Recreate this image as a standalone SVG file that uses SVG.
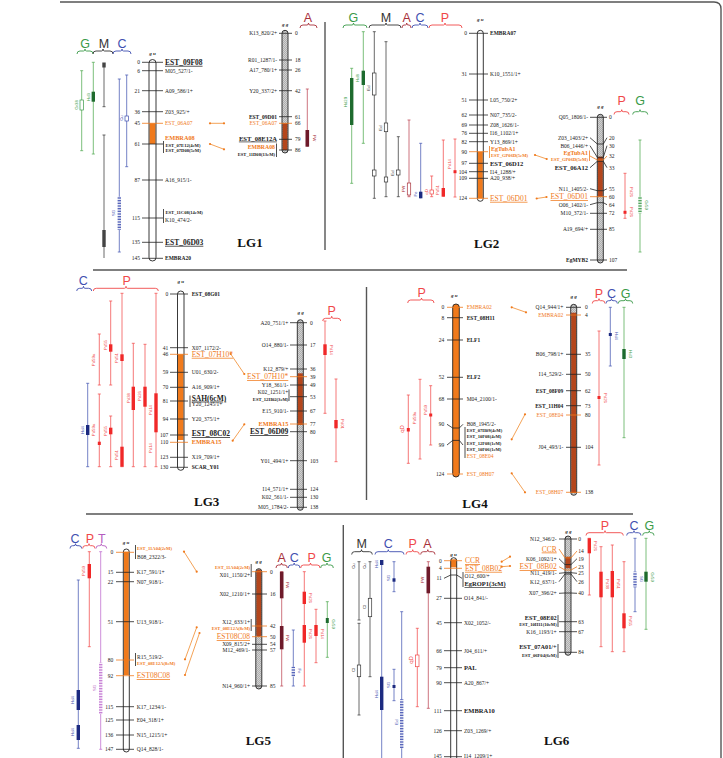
<svg xmlns="http://www.w3.org/2000/svg" width="723" height="758" viewBox="0 0 723 758">
<defs>
<pattern id="hatch" width="2" height="2" patternUnits="userSpaceOnUse"><rect width="2" height="2" fill="#d2d2d2"/><path d="M0 2L2 0" stroke="#8c8c8c" stroke-width="0.5"/></pattern>
<pattern id="hB" width="4" height="1.6" patternUnits="userSpaceOnUse"><rect width="4" height="1.6" fill="#fff"/><rect width="4" height="0.8" fill="#3f4fb0"/></pattern>
<pattern id="hG" width="4" height="1.6" patternUnits="userSpaceOnUse"><rect width="4" height="1.6" fill="#fff"/><rect width="4" height="0.8" fill="#3a9a48"/></pattern>
<pattern id="hT" width="4" height="1.6" patternUnits="userSpaceOnUse"><rect width="4" height="1.6" fill="#fff"/><rect width="4" height="0.8" fill="#c070d0"/></pattern>
</defs>
<style>
text{font-family:"Liberation Serif","Times New Roman",serif;fill:#222}
.m{font-size:5.5px}
.r{text-anchor:end}
.b{font-weight:bold}
.o{fill:#f07a1c}
.u{text-decoration:underline}
.big{font-size:7.5px;font-weight:bold}
.sm{font-size:4.6px;font-weight:bold}
.gu{font-size:5px;font-style:italic;font-weight:bold;text-anchor:middle}
.h{font-family:"Liberation Sans",Arial,sans-serif;font-size:12.5px;text-anchor:middle}
.lg{font-size:13px;font-weight:bold;text-anchor:middle;fill:#111}
.q{font-family:"Liberation Sans",Arial,sans-serif;font-size:4.3px;text-anchor:middle}
.tick{stroke:#222;stroke-width:0.8;fill:none}
.tko{stroke:#f07a1c;stroke-width:0.8;fill:none}
.ol{fill:none;stroke:#222;stroke-width:0.9}
.wht{fill:#fff}
.gry{fill:url(#hatch)}
.org{fill:#f07a1c}
.brn{fill:#b4461c}
.sep{stroke:#555;stroke-width:1.4;fill:none}
.con{stroke:#f08a2c;stroke-width:0.8;fill:none}
.dot{fill:#f07a1c}
.br{fill:none;stroke-width:0.9}
.cG{fill:#3a9a48}.cM{fill:#333}.cC{fill:#3f4fb0}.cA{fill:#a8303a}.cP{fill:#f04848}.cT{fill:#b45cc0}
.sG{stroke:#3a9a48}.sM{stroke:#333}.sC{stroke:#3f4fb0}.sA{stroke:#a8303a}.sP{stroke:#f04848}.sT{stroke:#b45cc0}
.lG{stroke:#5aae5a;stroke-width:0.8;fill:none}
.lM{stroke:#444;stroke-width:0.8;fill:none}
.lC{stroke:#5062b8;stroke-width:0.8;fill:none}
.lA{stroke:#c0505e;stroke-width:0.8;fill:none}
.lP{stroke:#f25656;stroke-width:0.8;fill:none}
.lT{stroke:#c070d0;stroke-width:0.8;fill:none}
.fG{fill:#1e6b2e}.fM{fill:#444}.fC{fill:#1c2a80}.fA{fill:#6e1a2a}.fP{fill:#f02828}
.xG{fill:#fff;stroke:#3a9a48;stroke-width:0.7}.xM{fill:#fff;stroke:#333;stroke-width:0.7}.xC{fill:#fff;stroke:#3f4fb0;stroke-width:0.7}.xA{fill:#fff;stroke:#a8303a;stroke-width:0.7}.xP{fill:#fff;stroke:#f04848;stroke-width:0.7}
</style>
<rect width="723" height="758" fill="#fff"/>
<g id="frame">
<path class="sep" d="M60 2H714Q721 2 721 9V758" stroke="#777"/>
<path class="sep" d="M325 22V250M93 270H627M366.5 287V500M86 514H633M343.3 525V758"/>
</g>

<!-- ================= LG1 ================= -->
<g id="LG1-headers">
<text class="h cG" x="85" y="48">G</text><text class="h cM" x="104" y="48">M</text><text class="h cC" x="122" y="48">C</text>
<path class="br sG" d="M77 54Q77 51 80 51H83.5Q85 51 85 49Q85 51 86.5 51H90Q93 51 93 54"/>
<path class="br sM" d="M93 54Q93 51 96 51H101.5Q103 51 103 49Q103 51 104.5 51H110Q113 51 113 54"/>
<path class="br sC" d="M113 54Q113 51 116 51H120.5Q122 51 122 49Q122 51 123.5 51H128Q131 51 131 54"/>
<text class="h cA" x="308" y="22">A</text>
<path class="br sA" d="M300 28Q300 25 303 25H307Q308.5 25 308.5 23Q308.5 25 310 25H314Q317 25 317 28"/>
<text class="lg" x="250" y="247">LG1</text>
</g>
<g id="LG1-qtl">
<path class="lG" d="M81.7 70.7V150.7M80.2 70.7H83.2M80.2 150.7H83.2"/><rect class="xG" x="80" y="100" width="3.4" height="10"/>
<text class="q cG" transform="rotate(-90 77.5 105)" x="77.5" y="105">Gr38</text>
<path class="lG" d="M93.3 62.3V154M91.8 62.3H94.8M91.8 154H94.8"/><rect class="fG" x="91.6" y="91.7" width="3.4" height="10"/>
<text class="q cG" transform="rotate(-90 89.5 97)" x="89.5" y="97">Hd3</text>
<path class="lM" d="M104 65V106.7M102.5 106.7H105.5"/><rect class="fM" x="102.3" y="62.5" width="3.4" height="5"/>
<path class="lM" d="M104 135V258M102.5 135H105.5"/><rect class="fM" x="102.3" y="230" width="3.4" height="17"/>
<path class="lC" d="M126.7 75V166.7M125.2 75H128.2M125.2 166.7H128.2"/><rect class="xC" x="125" y="116" width="3.4" height="5"/>
<text class="q cC" transform="rotate(-90 122.5 118)" x="122.5" y="118">Cu</text>
<path class="lC" d="M119.3 79V252M117.8 79H120.8M117.8 252H120.8"/><rect fill="url(#hB)" x="117.6" y="196.7" width="3.4" height="33.3"/>
<text class="q cC" transform="rotate(-90 114.5 213)" x="114.5" y="213">SG</text>
<path class="lA" d="M307.3 89V146.7M305.8 89H308.8"/><rect class="fA" x="305.5" y="130" width="3.6" height="16.7"/>
<text class="q cA" transform="rotate(90 312.5 138)" x="312.5" y="138">FW</text>
</g>
<g id="LG1-left">
<rect class="wht" x="149" y="59.5" width="7" height="201.5" rx="3.5"/>
<rect class="org" x="149.5" y="123.3" width="6" height="20.7"/>
<rect class="ol" x="149" y="59.5" width="7" height="201.5" rx="3.5"/>
<path class="tick" d="M142 62.3H163M142 70.7H163M142 90.7H163M142 111.7H163M142 144H163M142 180H163M142 218H163M142 242.3H163M142 258.3H163M163.5 141V153M163.5 209V223"/>
<path class="tko" d="M142 123.3H163"/>
<text class="gu" x="152.5" y="55">g u</text>
<text class="m r" x="140" y="64.1">0</text><text class="m r" x="140" y="72.5">6</text><text class="m r" x="140" y="92.5">21</text><text class="m r" x="140" y="113.5">36</text><text class="m r" x="140" y="125.1">45</text><text class="m r" x="140" y="145.8">61</text><text class="m r" x="140" y="181.8">87</text><text class="m r" x="140" y="219.8">115</text><text class="m r" x="140" y="244.1">135</text><text class="m r" x="140" y="260.1">145</text>
<text class="big u" x="165" y="64.8">EST_09F08</text>
<text class="m" x="165" y="72.5">M05_527/1-</text>
<text class="m" x="165" y="92.5">A09_586/1+</text>
<text class="m" x="165" y="113.5">Z03_925/+</text>
<text class="m o" x="165" y="125.1">EST_06A07</text>
<text class="m o b" x="165" y="140.3" style="font-size:6.3px">EMBRA08</text>
<text class="sm" x="165.5" y="147.3">EST_07E12(4cM)</text>
<text class="sm" x="165.5" y="152.3">EST_07D08(5cM)</text>
<text class="m" x="165" y="181.8">A16_915/1-</text>
<text class="sm" x="165.5" y="213.5">EST_11C08(14cM)</text>
<text class="m" x="165" y="221.8">K10_474/2-</text>
<text class="big u" x="165" y="244.8">EST_06D03</text>
<text class="m b" x="165" y="260.3">EMBRA20</text>
</g>
<g id="LG1-right">
<rect class="gry" x="282" y="30.3" width="6" height="122.7" rx="3"/>
<rect class="brn" x="282.5" y="123.3" width="5" height="26.7"/>
<rect class="ol" x="282" y="30.3" width="6" height="122.7" rx="3"/>
<path class="tick" d="M279 33.3H292M279 60H292M279 70H292M279 90.7H292M279 116.7H292M279 139.3H292M279 150H292M276.5 143.5V157"/>
<path class="tko" d="M279 123.3H292"/>
<text class="gu" x="285" y="26">g g</text>
<text class="m" x="295" y="35.1">0</text><text class="m" x="295" y="61.8">18</text><text class="m" x="295" y="71.8">26</text><text class="m" x="295" y="92.5">42</text><text class="m" x="295" y="118.5">61</text><text class="m" x="295" y="125.1">66</text><text class="m" x="295" y="141.1">79</text><text class="m" x="295" y="151.8">86</text>
<text class="m r" x="277" y="35.1">K13_820/2+</text>
<text class="m r" x="277" y="61.8">R01_1287/1-</text>
<text class="m r" x="277" y="71.8">A17_780/1+</text>
<text class="m r" x="277" y="92.5">Y20_337/2+</text>
<text class="m r b" x="277" y="118.5">EST_09D01</text>
<text class="m r o" x="277" y="125.1">EST_06A07</text>
<text class="r u b" x="277" y="140.6" style="font-size:6.6px">EST_08E12A</text>
<text class="m r o b" x="275" y="148.8" style="font-size:5.8px">EMBRA08</text>
<text class="sm r" x="275" y="155.9">EST_11D08(13cM)</text>
</g>

<!-- ================= LG2 ================= -->
<g id="LG2-headers">
<text class="h cG" x="353.3" y="22">G</text><text class="h cM" x="386" y="22">M</text><text class="h cA" x="406.7" y="22">A</text><text class="h cC" x="420" y="22">C</text><text class="h cP" x="445" y="22">P</text>
<path class="br sG" d="M343 28Q343 25 346 25H352Q353.5 25 353.5 23Q353.5 25 355 25H364Q367 25 367 28"/>
<path class="br sM" d="M369 28Q369 25 372 25H384.5Q386 25 386 23Q386 25 387.5 25H398Q401 25 401 28"/>
<path class="br sA" d="M402 28Q402 25 404 25H405.5Q406.7 25 406.7 23Q406.7 25 408 25H409Q411 25 411 28"/>
<path class="br sC" d="M412 28Q412 25 415 25H418.5Q420 25 420 23Q420 25 421.5 25H425Q428 25 428 28"/>
<path class="br sP" d="M429 28Q429 25 432 25H443.5Q445 25 445 23Q445 25 446.5 25H459Q462 25 462 28"/>
<text class="h cP" x="621.7" y="105">P</text><text class="h cG" x="640" y="105">G</text>
<path class="br sP" d="M614 114.5Q614 111.7 617 111.7H620.2Q621.7 111.7 621.7 109.7Q621.7 111.7 623.2 111.7H626Q629 111.7 629 114.5"/>
<path class="br sG" d="M632.7 114.5Q632.7 111.7 635.7 111.7H638.5Q640 111.7 640 109.7Q640 111.7 641.5 111.7H644.7Q647.7 111.7 647.7 114.5"/>
<text class="lg" x="486.7" y="248">LG2</text>
</g>
<g id="LG2-qtl">
<path class="lG" d="M351.7 68.3V183.3M350.2 68.3H353.2M350.2 183.3H353.2"/><rect class="fG" x="350" y="78" width="3.4" height="47"/>
<text class="q cG" transform="rotate(-90 347 102)" x="347" y="102">Hd29</text>
<path class="lG" d="M363.3 31.7V143.3M361.8 31.7H364.8M361.8 143.3H364.8"/><rect class="fG" x="361.6" y="70.7" width="3.4" height="14.3"/>
<text class="q cG" transform="rotate(-90 359 78)" x="359" y="78">Hd8</text>
<path class="lM" d="M374.3 31.7V198.3M372.8 31.7H375.8M372.8 198.3H375.8"/><rect class="xM" x="372.6" y="73" width="3.4" height="22"/><rect class="xM" x="372.6" y="170" width="3.4" height="6"/>
<text class="q cM" transform="rotate(-90 370 88)" x="370" y="88">Ed</text>
<path class="lM" d="M386 41.7V196.7M384.5 41.7H387.5M384.5 196.7H387.5"/><rect class="xM" x="384.3" y="123" width="3.4" height="8.7"/><rect class="xM" x="384.3" y="177" width="3.4" height="5"/>
<text class="q cM" transform="rotate(-90 381.7 128)" x="381.7" y="128">Ed</text>
<path class="lM" d="M398.3 136.7V196.7M396.8 136.7H399.8M396.8 196.7H399.8"/><rect class="xM" x="396.6" y="170" width="3.4" height="5"/>
<text class="q cM" transform="rotate(-90 394 173)" x="394" y="173">Ed</text>
<path class="lA" d="M409 120V196.7M407.5 120H410.5M407.5 196.7H410.5"/><rect class="xA" x="407.3" y="183" width="3.4" height="12"/>
<text class="q cA" transform="rotate(-90 405 189)" x="405" y="189">FW</text>
<path class="lC" d="M420.7 143.3V198.3M419.2 143.3H422.2"/><rect class="fC" x="419" y="191.7" width="3.4" height="6.6"/>
<text class="q cC" transform="rotate(-90 416.5 194)" x="416.5" y="194">Fe</text>
<path class="lP" d="M431.7 176V196.7M430.2 176H433.2M430.2 196.7H433.2"/><rect class="xP" x="430" y="190" width="3.4" height="4"/>
<text class="q cP" transform="rotate(-90 427.5 192)" x="427.5" y="192">qD</text>
<path class="lP" d="M443.3 140V196.7M441.8 140H444.8"/><rect class="fP" x="441.6" y="188" width="3.4" height="8.7"/>
<text class="q cP" transform="rotate(-90 439 190)" x="439" y="190">Pd51</text>
<path class="lP" d="M455 139V197M453.5 139H456.5M453.5 197H456.5"/><rect class="fP" x="453.5" y="170.2" width="3" height="3"/>
<text class="q cP" transform="rotate(-90 451 164)" x="451" y="164">Pd14</text>
<path class="lP" d="M625 173.3V218.3M623.5 173.3H626.5M623.5 218.3H626.5"/><rect class="fP" x="623.5" y="210.8" width="3" height="3"/>
<text class="q cP" transform="rotate(90 629.5 192)" x="629.5" y="192">Pd26</text>
<text class="q cP" transform="rotate(90 629.5 212)" x="629.5" y="212">Pd26</text>
<path class="lG" d="M640 140V252M638.5 140H641.5M638.5 252H641.5"/><rect fill="url(#hG)" x="638.3" y="196.7" width="3.4" height="16.6"/>
<text class="q cG" transform="rotate(90 645 205)" x="645" y="205">Gr59</text>
</g>
<g id="LG2-left">
<rect class="wht" x="477.3" y="30.3" width="6" height="171" rx="3"/>
<rect class="org" x="477.8" y="151.7" width="5" height="46.6"/>
<rect class="ol" x="477.3" y="30.3" width="6" height="171" rx="3"/>
<path class="tick" d="M469 33.3H488M469 74H488M469 100H488M469 115H488M469 125H488M469 133.3H488M469 141.7H488M469 163.3H488M469 171.7H488M469 178.3H488"/>
<path class="tko" d="M469 151.7H488M469 198.3H488M489.5 146V158"/>
<text class="gu" x="480.3" y="21">g u</text>
<text class="m r" x="467" y="35.1">0</text><text class="m r" x="467" y="75.8">31</text><text class="m r" x="467" y="101.8">51</text><text class="m r" x="467" y="116.8">62</text><text class="m r" x="467" y="126.8">69</text><text class="m r" x="467" y="135.1">76</text><text class="m r" x="467" y="143.5">82</text><text class="m r" x="467" y="153.5">90</text><text class="m r" x="467" y="165.1">97</text><text class="m r" x="467" y="173.5">104</text><text class="m r" x="467" y="180.1">109</text><text class="m r" x="467" y="200.1">124</text>
<text class="m b" x="490" y="35.1">EMBRA07</text>
<text class="m" x="490" y="75.8">K10_1551/1+</text>
<text class="m" x="490" y="101.8">L05_750/2+</text>
<text class="m" x="490" y="116.8">N07_735/2-</text>
<text class="m" x="490" y="126.8">Z08_1626/1-</text>
<text class="m" x="490" y="135.1">I16_1102/1+</text>
<text class="m" x="490" y="143.5">Y13_869/1+</text>
<text class="m o b" x="491" y="151" style="font-size:6px">EgTubA1</text>
<text class="sm o" x="491" y="157">EST_GP06D(5cM)</text>
<text class="m b" x="490" y="165.5" style="font-size:6.5px">EST_06D12</text>
<text class="m" x="490" y="173.5">I14_1288/+</text>
<text class="m" x="490" y="180.1">A20_938/+</text>
<text class="big o u" x="490" y="200.8" style="font-weight:normal">EST_06D01</text>
</g>
<g id="LG2-right">
<rect class="gry" x="597.3" y="114.3" width="6" height="148.7" rx="3"/>
<rect class="brn" x="597.8" y="156.7" width="5" height="40"/>
<rect class="ol" x="597.3" y="114.3" width="6" height="148.7" rx="3"/>
<path class="tick" d="M590 117.3H607M590 137.7L597.3 144H603.3L607 137.7M590 145.7L597.3 157.3H603.3L607 145.7M590 167.7L597.3 161.3H603.3L607 167.7M590 188.7L597.3 190.7H603.3L607 188.7M590 204.7L597.3 202.7H603.3L607 204.7M590 213.3H607M590 229.3H607M590 260H607"/>
<path class="tko" d="M590 156L597.3 160H603.3L607 156M590 196.7H607M589.5 150.5V161"/>
<text class="gu" x="600.3" y="108">g g</text>
<text class="m" x="609" y="119.1">0</text><text class="m" x="609" y="139.5">20</text><text class="m" x="609" y="147.5">30</text><text class="m" x="609" y="157.8">32</text><text class="m" x="609" y="169.5">33</text><text class="m" x="609" y="190.5">55</text><text class="m" x="609" y="198.5">60</text><text class="m" x="609" y="206.5">64</text><text class="m" x="609" y="215.1">72</text><text class="m" x="609" y="231.1">85</text><text class="m" x="609" y="261.8">107</text>
<text class="m r" x="588" y="119.1">Q05_1806/1-</text>
<text class="m r" x="588" y="139.5">Z03_1403/2+</text>
<text class="m r" x="588" y="147.5">B06_1446/+</text>
<text class="m r o b" x="588" y="155.2" style="font-size:6px">EgTubA1</text>
<text class="sm r o" x="588" y="161">EST_GP06D(5cM)</text>
<text class="m r b" x="588" y="169.7" style="font-size:6.5px">EST_06A12</text>
<text class="m r" x="588" y="190.5">N11_1405/2-</text>
<text class="big r o u" x="588" y="199.2" style="font-weight:normal">EST_06D01</text>
<text class="m r" x="588" y="206.5">O06_1402/1-</text>
<text class="m r" x="588" y="215.1">M10_372/1-</text>
<text class="m r" x="588" y="231.1">A19_694/+</text>
<text class="m r b" x="588" y="262">EgMYB2</text>
</g>

<!-- ================= LG3 ================= -->
<g id="LG3-headers">
<text class="h cC" x="83.3" y="285">C</text><text class="h cP" x="126.7" y="285">P</text>
<path class="br sC" d="M76.7 291Q76.7 288.3 79.7 288.3H82Q83.5 288.3 83.5 286.3Q83.5 288.3 85 288.3H88.7Q91.7 288.3 91.7 291"/>
<path class="br sP" d="M93.3 291Q93.3 288.3 96.3 288.3H124.5Q126 288.3 126 286.3Q126 288.3 127.5 288.3H155.3Q158.3 288.3 158.3 291"/>
<text class="h cP" x="331.7" y="315">P</text>
<path class="br sP" d="M322.7 321Q322.7 318.3 325.7 318.3H330.2Q331.7 318.3 331.7 316.3Q331.7 318.3 333.2 318.3H337.7Q340.7 318.3 340.7 321"/>
<text class="lg" x="206.7" y="506">LG3</text>
</g>
<g id="LG3-qtl">
<path class="lC" d="M87.7 383.3V466.7M86.2 383.3H89.2M86.2 466.7H89.2"/><rect class="fC" x="86" y="425" width="3.4" height="10"/>
<text class="q cC" transform="rotate(-90 83.5 430)" x="83.5" y="430">Hd4</text>
<path class="lP" d="M99.3 334V385M97.8 334H100.8M97.8 385H100.8M99.3 394V466.7M97.8 394H100.8M97.8 466.7H100.8"/><rect class="fP" x="97.8" y="441.7" width="3" height="3.3"/>
<text class="q cP" transform="rotate(-90 95.3 360)" x="95.3" y="360">Pd59a</text><text class="q cP" transform="rotate(-90 95.3 430)" x="95.3" y="430">Pd59a</text>
<path class="lP" d="M110.7 301V385M109.2 301H112.2M109.2 385H112.2M110.7 416V466.7M109.2 416H112.2M109.2 466.7H112.2"/><rect class="fP" x="109" y="344.3" width="3.4" height="7.4"/><rect class="fP" x="109" y="427.7" width="3.4" height="6.6"/>
<text class="q cP" transform="rotate(-90 106.5 345)" x="106.5" y="345">Pd55</text><text class="q cP" transform="rotate(-90 106.5 431)" x="106.5" y="431">Pd55</text>
<path class="lP" d="M122 293.3V466.7M120.5 293.3H123.5M120.5 466.7H123.5"/><rect class="fP" x="120.3" y="354.3" width="3.4" height="6.7"/><rect class="fP" x="120.3" y="446.7" width="3.4" height="20"/>
<text class="q cP" transform="rotate(-90 118 358)" x="118" y="358">Pd51</text><text class="q cP" transform="rotate(-90 118 455)" x="118" y="455">Pd51</text>
<path class="lP" d="M133.3 343.3V466.7M131.8 343.3H134.8M131.8 466.7H134.8"/><rect class="fP" x="131.6" y="386.7" width="3.4" height="23.3"/>
<text class="q cP" transform="rotate(-90 129.5 398)" x="129.5" y="398">Pd38</text>
<path class="lP" d="M145 344.3V466.7M143.5 344.3H146.5M143.5 466.7H146.5"/><rect class="fP" x="143.3" y="386.7" width="3.4" height="20"/>
<text class="q cP" transform="rotate(-90 141 396)" x="141" y="396">Pd26</text>
<path class="lP" d="M156 293.3V466.7M154.5 293.3H157.5M154.5 466.7H157.5"/><rect class="fP" x="154.3" y="393.3" width="3.4" height="39"/>
<text class="q cP" transform="rotate(-90 152 410)" x="152" y="410">Pd14</text><text class="q cP" transform="rotate(-90 152 448)" x="152" y="448">Pd14</text>
<path class="lP" d="M325 321V413.3M323.5 321H326.5M323.5 413.3H326.5"/><rect class="fP" x="323.3" y="344.3" width="3.4" height="10.7"/>
<text class="q cP" transform="rotate(90 330 350)" x="330" y="350">Pd14</text>
<path class="lP" d="M336 379V461.7M334.5 379H337.5M334.5 461.7H337.5"/><rect class="fP" x="334.3" y="420" width="3.4" height="8.3"/>
<text class="q cP" transform="rotate(90 341 424)" x="341" y="424">Pd01</text>
</g>
<g id="LG3-left">
<rect class="wht" x="177.5" y="291" width="6.5" height="179.3" rx="3.2"/>
<rect class="org" x="178" y="354.3" width="5.5" height="85.7"/>
<rect class="ol" x="177.5" y="291" width="6.5" height="179.3" rx="3.2"/>
<path class="tick" d="M170 294H188M170 347.7H188M170 372.3H188M170 387.3H188M170 401H188M170 419H188M170 435H188M170 457.3H188M170 467.3H188M190 395.5V407"/>
<path class="tko" d="M170 354.3H188M170 442.3H188"/>
<text class="gu" x="180.7" y="283">g u</text>
<text class="m r" x="168.3" y="295.8">0</text><text class="m r" x="168.3" y="349.5">41</text><text class="m r" x="168.3" y="356.1">46</text><text class="m r" x="168.3" y="374.1">59</text><text class="m r" x="168.3" y="389.1">70</text><text class="m r" x="168.3" y="402.8">81</text><text class="m r" x="168.3" y="420.8">94</text><text class="m r" x="168.3" y="436.8">107</text><text class="m r" x="168.3" y="444.1">110</text><text class="m r" x="168.3" y="459.1">123</text><text class="m r" x="168.3" y="469.1">130</text>
<text class="m b" x="191.7" y="295.8">EST_08G01</text>
<text class="m" x="191.7" y="349.5">X07_1172/2-</text>
<text class="big o u" x="191.7" y="356.8" style="font-weight:normal">EST_07H10*</text>
<text class="m" x="191.7" y="374.1">U01_630/2-</text>
<text class="m" x="191.7" y="389.1">A16_909/1+</text>
<text class="big u" x="191.7" y="400.6">SAH(6cM)</text>
<text class="m" x="191.7" y="406.3">Y20_1245/1+</text>
<text class="m" x="191.7" y="420.8">Y20_375/1+</text>
<text class="big u" x="191.7" y="436">EST_08C02</text>
<text class="m o b" x="191.7" y="444.3" style="font-size:6.3px">EMBRA15</text>
<text class="m" x="191.7" y="459.1">X19_709/1+</text>
<text class="m b" x="191.7" y="469.1">SCAR_Y01</text>
</g>
<g id="LG3-right">
<rect class="gry" x="297.3" y="319.7" width="6" height="190.6" rx="3"/>
<rect class="brn" x="297.8" y="373.3" width="5" height="51.7"/>
<rect class="ol" x="297.3" y="319.7" width="6" height="190.6" rx="3"/>
<path class="tick" d="M290 322.7H307M290 345H307M290 369H307M290 385H307M290 396.7H307M290 411H307M290 431.7H307M290 460.7H307M290 489.3H307M290 497.3H307M290 507.3H307M289 389.5V401"/>
<path class="tko" d="M290 376.7H307M290 424H307"/>
<text class="gu" x="300.7" y="314">g g</text>
<text class="m" x="310" y="324.5">0</text><text class="m" x="310" y="346.8">17</text><text class="m" x="310" y="370.8">36</text><text class="m" x="310" y="378.5">39</text><text class="m" x="310" y="386.8">49</text><text class="m" x="310" y="398.5">53</text><text class="m" x="310" y="412.8">67</text><text class="m" x="310" y="425.8">77</text><text class="m" x="310" y="433.5">80</text><text class="m" x="310" y="462.5">103</text><text class="m" x="310" y="491.1">124</text><text class="m" x="310" y="499.1">130</text><text class="m" x="310" y="509.1">138</text>
<text class="m r" x="288.3" y="324.5">A20_751/1+</text>
<text class="m r" x="288.3" y="346.8">O14_880/1-</text>
<text class="m r" x="288.3" y="370.8">K12_879/+</text>
<text class="big r o u" x="288.3" y="379.2" style="font-weight:normal">EST_07H10*</text>
<text class="m r" x="288.3" y="386.8">Y18_361/1-</text>
<text class="m r" x="288.3" y="393.5">K02_1251/1+</text>
<text class="sm r" x="288.3" y="400.5">EST_12H02(3cM)</text>
<text class="m r" x="288.3" y="412.8">E15_910/1-</text>
<text class="m r o b" x="288.3" y="426.2" style="font-size:6.3px">EMBRA15</text>
<text class="big r u" x="288.3" y="434.2">EST_06D09</text>
<text class="m r" x="288.3" y="462.5">Y01_494/1+</text>
<text class="m r" x="288.3" y="491.1">I14_571/1+</text>
<text class="m r" x="288.3" y="499.1">K02_561/1-</text>
<text class="m r" x="288.3" y="509.1">M05_1784/2-</text>
</g>

<!-- ================= LG4 ================= -->
<g id="LG4-headers">
<text class="h cP" x="421.7" y="296.7">P</text>
<path class="br sP" d="M407.7 303Q407.7 300 410.7 300H420Q421.5 300 421.5 298Q421.5 300 423 300H431Q434 300 434 303"/>
<text class="h cP" x="599" y="298">P</text><text class="h cC" x="611.5" y="298">C</text><text class="h cG" x="625.7" y="298">G</text>
<path class="br sP" d="M592.3 303.5Q592.3 300.7 595 300.7H597.5Q599 300.7 599 298.7Q599 300.7 600.5 300.7H602.3Q605 300.7 605 303.5"/>
<path class="br sC" d="M606 303.5Q606 300.7 608.5 300.7H610Q611.5 300.7 611.5 298.7Q611.5 300.7 613 300.7H614.8Q617.3 300.7 617.3 303.5"/>
<path class="br sG" d="M618.3 303.5Q618.3 300.7 621 300.7H624Q625.5 300.7 625.5 298.7Q625.5 300.7 627 300.7H630Q632.7 300.7 632.7 303.5"/>
<text class="lg" x="475" y="508">LG4</text>
</g>
<g id="LG4-qtl">
<path class="lP" d="M408.3 395V463.3M406.8 395H409.8M406.8 463.3H409.8"/><rect class="fP" x="406.8" y="428" width="3" height="3.5"/>
<text class="q cP" transform="rotate(-90 403.5 429)" x="403.5" y="429" style="font-size:6px">qD</text>
<path class="lP" d="M420 379.3V459M418.5 379.3H421.5M418.5 459H421.5"/>
<text class="q cP" transform="rotate(-90 416 418)" x="416" y="418">Pd59a</text>
<path class="lP" d="M430.7 385.7V445M429.2 385.7H432.2M429.2 445H432.2"/><rect class="fP" x="429.2" y="413.5" width="3" height="3"/>
<text class="q cP" transform="rotate(-90 426.5 410)" x="426.5" y="410">Pd59</text>
<path class="lP" d="M599 331V465M597.5 331H600.5M597.5 465H600.5"/><rect class="fP" x="597.5" y="396" width="3" height="3"/>
<text class="q cP" transform="rotate(90 604 398)" x="604" y="398">Pd26</text>
<path class="lC" d="M610.3 307.3V366M608.8 307.3H611.8M608.8 366H611.8"/><rect class="fC" x="608.8" y="333" width="3" height="3"/>
<text class="q cC" transform="rotate(90 614.8 336)" x="614.8" y="336">Hd4</text>
<path class="lG" d="M624 307.3V437.7M622.5 307.3H625.5M622.5 437.7H625.5"/><rect class="fG" x="622.3" y="349" width="3.4" height="10"/>
<text class="q cG" transform="rotate(90 628.5 354)" x="628.5" y="354">Hd3</text>
</g>
<g id="LG4-left">
<rect class="org" x="452.7" y="304" width="6.6" height="173" rx="3.3"/>
<rect class="ol" x="452.7" y="304" width="6.6" height="173" rx="3.3"/>
<path class="tick" d="M447 317.7H463M447 340H463M447 377.3H463M447 399H463M447 424.3L452.7 428H459.3L463 424.3M447 445L452.7 440.4H459.3L463 445M465 427V458"/>
<path class="tko" d="M447 307.3H463M447 474H463"/>
<text class="gu" x="454.3" y="297">g u</text>
<text class="m r" x="444.3" y="309.1">0</text><text class="m r" x="444.3" y="319.5">8</text><text class="m r" x="444.3" y="341.8">24</text><text class="m r" x="444.3" y="379.1">52</text><text class="m r" x="444.3" y="400.8">68</text><text class="m r" x="444.3" y="426.1">90</text><text class="m r" x="444.3" y="446.8">99</text><text class="m r" x="444.3" y="475.8">124</text>
<text class="m o" x="466.7" y="309.1">EMBRA02</text>
<text class="m b" x="466.7" y="319.5">EST_08H11</text>
<text class="m b" x="466.7" y="341.8">ELF1</text>
<text class="m b" x="466.7" y="379.1">ELF2</text>
<text class="m" x="466.7" y="400.8">M04_2100/1-</text>
<text class="m" x="466.7" y="426.1">B08_1945/2-</text>
<text class="sm" x="466.7" y="431.5">EST_07H09(4cM)</text>
<text class="sm" x="466.7" y="438.2">EST_10F08(4cM)</text>
<text class="sm" x="466.7" y="444.8">EST_12F08(1cM)</text>
<text class="sm" x="466.7" y="450.5">EST_10F06(1cM)</text>
<text class="m o" x="466.7" y="457.8">EST_08E04</text>
<text class="m o" x="466.7" y="475.8">EST_08H07</text>
</g>
<g id="LG4-right">
<rect class="gry" x="570.7" y="304.3" width="6" height="191" rx="3"/>
<rect class="brn" x="571.2" y="312.7" width="5" height="180.3"/>
<rect class="ol" x="570.7" y="304.3" width="6" height="191" rx="3"/>
<path class="tick" d="M566 307.3H581M566 354.3H581M566 374.3H581M566 390.7H581M566 405.7H581M566 447.3H581"/>
<path class="tko" d="M566 315H581M566 415H581M566 492.3H581"/>
<text class="gu" x="573.5" y="297.5">g g</text>
<text class="m" x="585" y="309.1">0</text><text class="m" x="585" y="316.8">4</text><text class="m" x="585" y="356.1">35</text><text class="m" x="585" y="376.1">50</text><text class="m" x="585" y="392.5">62</text><text class="m" x="585" y="407.5">73</text><text class="m" x="585" y="416.8">80</text><text class="m" x="585" y="449.1">104</text><text class="m" x="585" y="494.1">138</text>
<text class="m r" x="563.3" y="309.1">Q14_944/1+</text>
<text class="m r o" x="563.3" y="316.8">EMBRA02</text>
<text class="m r" x="563.3" y="356.1">B06_798/1+</text>
<text class="m r" x="563.3" y="376.1">I14_529/2-</text>
<text class="m r b" x="563.3" y="392.5">EST_08F09</text>
<text class="m r b" x="563.3" y="407.5">EST_11H04</text>
<text class="m r o" x="563.3" y="416.8">EST_08E04</text>
<text class="m r" x="563.3" y="449.1">J04_493/1-</text>
<text class="m r o" x="563.3" y="494.1">EST_08H07</text>
</g>

<!-- ================= LG5 ================= -->
<g id="LG5-headers">
<text class="h cC" x="75" y="543">C</text><text class="h cP" x="90" y="543">P</text><text class="h cT" x="101.7" y="543">T</text>
<path class="br sC" d="M70 548.5Q70 545.7 72.5 545.7H74Q75.5 545.7 75.5 543.7Q75.5 545.7 77 545.7H79Q81.7 545.7 81.7 548.5"/>
<path class="br sP" d="M82.7 548.5Q82.7 545.7 85.2 545.7H87.5Q89 545.7 89 543.7Q89 545.7 90.5 545.7H92.3Q95 545.7 95 548.5"/>
<path class="br sT" d="M96 548.5Q96 545.7 98.5 545.7H99.8Q101.3 545.7 101.3 543.7Q101.3 545.7 102.8 545.7H104Q106.7 545.7 106.7 548.5"/>
<text class="h cA" x="281.7" y="561.7">A</text><text class="h cC" x="294.3" y="561.7">C</text><text class="h cP" x="311.7" y="561.7">P</text><text class="h cG" x="326.7" y="561.7">G</text>
<path class="br sA" d="M276 568Q276 565 278.5 565H280Q281.5 565 281.5 563Q281.5 565 283 565H284.8Q287.3 565 287.3 568"/>
<path class="br sC" d="M288.3 568Q288.3 565 290.8 565H292.7Q294.2 565 294.2 563Q294.2 565 295.7 565H297.5Q300 565 300 568"/>
<path class="br sP" d="M300.7 568Q300.7 565 303.5 565H309Q310.5 565 310.5 563Q310.5 565 312 565H317.2Q320 565 320 568"/>
<path class="br sG" d="M320.7 568Q320.7 565 323.2 565H325.5Q327 565 327 563Q327 565 328.5 565H330.8Q333.3 565 333.3 568"/>
<text class="lg" x="258.3" y="745">LG5</text>
</g>
<g id="LG5-qtl">
<path class="lC" d="M78.3 580V748.3M76.8 580H79.8M76.8 748.3H79.8"/><rect class="fC" x="76.6" y="690" width="3.4" height="20"/><rect class="fC" x="76.6" y="725" width="3.4" height="15"/>
<text class="q cC" transform="rotate(-90 73.8 700)" x="73.8" y="700">Hd4</text><text class="q cC" transform="rotate(-90 73.8 732)" x="73.8" y="732">Hd4</text>
<path class="lP" d="M89.3 551.7V646.7M87.8 551.7H90.8M87.8 646.7H90.8"/><rect class="fP" x="87.6" y="564" width="3.4" height="14.3"/>
<text class="q cP" transform="rotate(-90 85 571)" x="85" y="571">Pd59</text>
<path class="lT" d="M100.7 551.7V749.3M99.2 551.7H102.2M99.2 749.3H102.2"/><rect fill="url(#hT)" x="99" y="662.7" width="3.4" height="51.3"/>
<text class="q cT" transform="rotate(-90 96.3 688)" x="96.3" y="688">SG</text>
<path class="lA" d="M281.7 571.7V686M280.2 571.7H283.2M280.2 686H283.2"/><rect class="fA" x="279.9" y="571.7" width="3.6" height="26.6"/><rect class="fA" x="279.9" y="626" width="3.6" height="23.3"/>
<text class="q cA" transform="rotate(90 286 585)" x="286" y="585">FW</text><text class="q cA" transform="rotate(90 286 638)" x="286" y="638">FW</text>
<path class="lC" d="M293.3 630V686M291.8 630H294.8M291.8 686H294.8"/><rect fill="url(#hB)" x="291.6" y="666.7" width="3.4" height="10"/>
<text class="q cC" transform="rotate(90 298 671)" x="298" y="671">Fe</text>
<path class="lP" d="M304.3 571.7V686M302.8 571.7H305.8M302.8 686H305.8"/><rect class="fP" x="302.6" y="591.7" width="3.4" height="12.3"/><rect class="fP" x="302.6" y="625" width="3.4" height="17.7"/>
<text class="q cP" transform="rotate(90 309 598)" x="309" y="598">Pd26</text><text class="q cP" transform="rotate(90 309 634)" x="309" y="634">Pd26</text>
<path class="lP" d="M316 609.3V662.7M314.5 609.3H317.5M314.5 662.7H317.5"/><rect class="fP" x="314.3" y="625" width="3.4" height="11"/>
<text class="q cP" transform="rotate(90 320.5 634)" x="320.5" y="634">Pd14</text>
<path class="lG" d="M327.3 601.7V657.3M325.8 601.7H328.8M325.8 657.3H328.8"/><rect class="fG" x="325.8" y="618" width="3" height="5"/>
<text class="q cG" transform="rotate(90 331.5 624)" x="331.5" y="624">Gr59</text>
</g>
<g id="LG5-left">
<rect class="wht" x="123.3" y="549" width="6" height="203" rx="3"/>
<rect class="org" x="123.8" y="551.7" width="5" height="123.3"/>
<rect class="ol" x="123.3" y="549" width="6" height="203" rx="3"/>
<path class="tick" d="M116 572.3H134M116 581.7H134M116 621.7H134M116 706.7H134M116 720H134M116 735H134M116 749.3H134M135.5 545V559M135.5 653V666"/>
<path class="tko" d="M116 552.3H134M116 660H134M116 675.7H134"/>
<text class="gu" x="126" y="543.5">g u</text>
<text class="m r" x="113.3" y="554.1">0</text><text class="m r" x="113.3" y="574.1">15</text><text class="m r" x="113.3" y="583.5">22</text><text class="m r" x="113.3" y="623.5">51</text><text class="m r" x="113.3" y="661.8">80</text><text class="m r" x="113.3" y="677.5">92</text><text class="m r" x="113.3" y="708.5">115</text><text class="m r" x="113.3" y="721.8">125</text><text class="m r" x="113.3" y="736.8">136</text><text class="m r" x="113.3" y="751.1">147</text>
<text class="sm o" x="137" y="549.8">EST_11A04(2cM)</text>
<text class="m" x="137" y="558.5">B08_2322/3-</text>
<text class="m" x="136.7" y="574.1">K17_591/1+</text>
<text class="m" x="136.7" y="583.5">N07_918/1-</text>
<text class="m" x="136.7" y="623.5">U13_918/1-</text>
<text class="m" x="137" y="658.5">R15_519/2-</text>
<text class="sm o" x="137" y="664.8">EST_08E12A(8cM)</text>
<text class="big o u" x="136.7" y="678.2" style="font-weight:normal">EST08C08</text>
<text class="m" x="136.7" y="708.5">K17_1234/1-</text>
<text class="m" x="136.7" y="721.8">E04_318/1+</text>
<text class="m" x="136.7" y="736.8">N15_1215/1+</text>
<text class="m" x="136.7" y="751.1">Q14_828/1-</text>
</g>
<g id="LG5-right">
<rect class="gry" x="255.8" y="568.7" width="6" height="120.3" rx="3"/>
<rect class="brn" x="256.3" y="569.5" width="5" height="67.2" rx="2.5"/>
<rect class="ol" x="255.8" y="568.7" width="6" height="120.3" rx="3"/>
<path class="tick" d="M252 594H267M252 644.3H267M252 650H267M252 686H267M251.2 564V577M251.2 619V631"/>
<path class="tko" d="M252 571.7H267M252 626H267M252 636.7H267"/>
<text class="gu" x="258.5" y="562.5">g g</text>
<text class="m" x="270" y="573.5">0</text><text class="m" x="270" y="595.8">16</text><text class="m" x="270" y="627.8">42</text><text class="m" x="270" y="638.5">50</text><text class="m" x="270" y="646.1">54</text><text class="m" x="270" y="651.8">57</text><text class="m" x="270" y="687.8">85</text>
<text class="sm r o" x="250" y="568.8">EST_11A04(2cM)</text>
<text class="m r" x="250" y="577.3">X01_1150/2+</text>
<text class="m r" x="250" y="595.8">X02_1210/1+</text>
<text class="m r" x="250" y="623.5">X12_633/1+</text>
<text class="sm r o" x="250" y="629.8">EST_08E12A(8cM)</text>
<text class="big r o u" x="250" y="639.2" style="font-weight:normal">EST08C08</text>
<text class="m r" x="250" y="646.1">X09_815/2+</text>
<text class="m r" x="250" y="651.8">M12_469/1-</text>
<text class="m r" x="250" y="687.8">N14_960/1+</text>
</g>

<!-- ================= LG6 ================= -->
<g id="LG6-headers">
<text class="h cM" x="361.7" y="548.3">M</text><text class="h cC" x="388.3" y="548.3">C</text><text class="h cP" x="412.7" y="548.3">P</text><text class="h cA" x="427.3" y="548.3">A</text>
<path class="br sM" d="M351.7 554.5Q351.7 551.7 354.5 551.7H360Q361.5 551.7 361.5 549.7Q361.5 551.7 363 551.7H369.5Q372.3 551.7 372.3 554.5"/>
<path class="br sC" d="M375 554.5Q375 551.7 378 551.7H386.8Q388.3 551.7 388.3 549.7Q388.3 551.7 389.8 551.7H401Q404 551.7 404 554.5"/>
<path class="br sP" d="M406 554.5Q406 551.7 408.5 551.7H411.2Q412.7 551.7 412.7 549.7Q412.7 551.7 414.2 551.7H416.8Q419.3 551.7 419.3 554.5"/>
<path class="br sA" d="M420.7 554.5Q420.7 551.7 423.2 551.7H426.3Q427.8 551.7 427.8 549.7Q427.8 551.7 429.3 551.7H432.5Q435 551.7 435 554.5"/>
<text class="h cP" x="605" y="530">P</text><text class="h cC" x="634" y="530">C</text><text class="h cG" x="649.3" y="530">G</text>
<path class="br sP" d="M586 535.5Q586 532.7 589 532.7H603.5Q605 532.7 605 530.7Q605 532.7 606.5 532.7H620.3Q623.3 532.7 623.3 535.5"/>
<path class="br sC" d="M626.7 535.5Q626.7 532.7 629.5 532.7H632.5Q634 532.7 634 530.7Q634 532.7 635.5 532.7H638.2Q641 532.7 641 535.5"/>
<path class="br sG" d="M642.7 535.5Q642.7 532.7 645.2 532.7H647.8Q649.3 532.7 649.3 530.7Q649.3 532.7 650.8 532.7H651.5Q654 532.7 654 535.5"/>
<text class="lg" x="556.7" y="745">LG6</text>
</g>
<g id="LG6-qtl">
<path class="lM" d="M359 561.7V620M357.5 561.7H360.5M357.5 620H360.5"/>
<text class="q cM" transform="rotate(-90 355 566)" x="355" y="566">Cu</text>
<path class="lM" d="M370 561.7V676.7M368.5 561.7H371.5M368.5 676.7H371.5"/><rect class="xM" x="368.3" y="598.3" width="3.4" height="18.4"/>
<text class="q cM" transform="rotate(-90 366 566)" x="366" y="566">Cu</text><text class="q cM" transform="rotate(-90 366 607)" x="366" y="607">Cl</text>
<path class="lM" d="M359 623.3V715M357.5 623.3H360.5M357.5 715H360.5"/><rect class="xM" x="357.3" y="665" width="3.4" height="11.7"/>
<text class="q cM" transform="rotate(-90 355 670)" x="355" y="670">Cl</text>
<path class="lC" d="M381.7 560V758"/><rect class="fC" x="380" y="560" width="3.4" height="5"/><rect class="fC" x="380" y="676.7" width="3.4" height="33.3"/>
<text class="q cC" transform="rotate(-90 377.5 564)" x="377.5" y="564">Hd4</text><text class="q cC" transform="rotate(-90 377.5 694)" x="377.5" y="694">Hd4</text>
<path class="lC" d="M394 561.7V591.7M392.5 561.7H395.5M392.5 591.7H395.5"/><rect class="fC" x="392.5" y="578.3" width="3" height="3.4"/>
<text class="q cC" transform="rotate(-90 390 578)" x="390" y="578">SG</text>
<path class="lC" d="M394 669.3V700.7M392.5 669.3H395.5M392.5 700.7H395.5"/><rect class="fC" x="392.5" y="685" width="3" height="3"/>
<text class="q cC" transform="rotate(-90 390 685)" x="390" y="685">SG</text>
<path class="lC" d="M401.7 611.7V758M400.2 611.7H403.2"/><rect fill="url(#hB)" x="400" y="699.3" width="3.4" height="49"/>
<text class="q cC" transform="rotate(-90 397.5 722)" x="397.5" y="722">Ed</text>
<path class="lP" d="M417.3 628.3V706.7M415.8 628.3H418.8M415.8 706.7H418.8"/><rect class="xP" x="415.6" y="655" width="3.4" height="11.7"/>
<text class="q cP" transform="rotate(-90 412.5 660)" x="412.5" y="660" style="font-size:6px">qD</text>
<path class="lA" d="M428.3 561.7V708.3M426.8 561.7H429.8M426.8 708.3H429.8"/><rect class="fA" x="426.5" y="566.7" width="3.6" height="26.6"/>
<text class="q cA" transform="rotate(-90 424 580)" x="424" y="580">FW</text>
<path class="lP" d="M589.3 538.3V595M587.8 538.3H590.8M587.8 595H590.8"/><rect class="fP" x="587.6" y="538.3" width="3.4" height="15"/>
<text class="q cP" transform="rotate(90 593.8 546)" x="593.8" y="546">Pd26</text>
<path class="lP" d="M601 546.7V646.7M599.5 546.7H602.5M599.5 646.7H602.5"/><rect class="fP" x="599.3" y="571.7" width="3.4" height="25.6"/>
<text class="q cP" transform="rotate(90 605.5 584)" x="605.5" y="584">Pd38</text>
<path class="lP" d="M612.3 545V651.7M610.8 545H613.8M610.8 651.7H613.8"/><rect class="fP" x="610.6" y="571" width="3.4" height="26.3"/>
<text class="q cP" transform="rotate(90 616.8 584)" x="616.8" y="584">Pd51</text>
<path class="lP" d="M624 561.7V651.7M622.5 561.7H625.5M622.5 651.7H625.5"/><rect class="fP" x="622.3" y="613.3" width="3.4" height="15"/>
<text class="q cP" transform="rotate(90 628.5 621)" x="628.5" y="621">Pd55</text>
<path class="lC" d="M635 538.3V611.7M633.5 538.3H636.5M633.5 611.7H636.5"/><rect fill="url(#hB)" x="633.3" y="571.7" width="3.4" height="15.6"/>
<text class="q cC" transform="rotate(90 639.5 579)" x="639.5" y="579">SG</text>
<path class="lG" d="M646 538.3V629.3M644.5 538.3H647.5M644.5 629.3H647.5"/><rect class="fG" x="644.3" y="571.7" width="3.4" height="10"/>
<text class="q cG" transform="rotate(90 650.5 577)" x="650.5" y="577">Gr59</text>
</g>
<g id="LG6-left">
<rect class="wht" x="450.7" y="557.7" width="6" height="215" rx="3"/>
<rect class="org" x="450.7" y="559.3" width="6" height="8"/>
<rect class="ol" x="450.7" y="557.7" width="6" height="215" rx="3"/>
<path class="tick" d="M444 578.3L450.7 575H456.7L462 578.3M444 598.3H462M444 622.7H462M444 650.7H462M444 667.7H462M444 682.7H462M444 710.7H462M444 730.7H462M444 756.7H462M463 572V587"/>
<path class="tko" d="M444 560.7H462M444 568.3H462"/>
<text class="gu" x="453.5" y="555.5">g u</text>
<text class="m r" x="441.7" y="562.5">0</text><text class="m r" x="441.7" y="570.1">4</text><text class="m r" x="441.7" y="580.1">11</text><text class="m r" x="441.7" y="600.1">27</text><text class="m r" x="441.7" y="624.5">45</text><text class="m r" x="441.7" y="652.5">66</text><text class="m r" x="441.7" y="669.5">79</text><text class="m r" x="441.7" y="684.5">90</text><text class="m r" x="441.7" y="712.5">111</text><text class="m r" x="441.7" y="732.5">126</text><text class="m r" x="441.7" y="758">145</text>
<text class="big o u" x="465" y="563.2" style="font-weight:normal">CCR</text>
<text class="big o u" x="465" y="570.8" style="font-weight:normal">EST_08B02</text>
<text class="m" x="464.5" y="577.5">O12_600/+</text>
<text class="m b u" x="464.5" y="586" style="font-size:6.5px">EgROP1(3cM)</text>
<text class="m" x="464" y="600.1">O14_841/-</text>
<text class="m" x="464" y="624.5">X02_1052/-</text>
<text class="m" x="464" y="652.5">J04_611/+</text>
<text class="m b" x="464" y="669.7" style="font-size:6.5px">PAL</text>
<text class="m" x="464" y="684.5">A20_867/+</text>
<text class="m b" x="464" y="712.7" style="font-size:6.5px">EMBRA10</text>
<text class="m" x="464" y="732.5">Z03_1269/+</text>
<text class="m" x="464" y="758">I14_1209/1+</text>
</g>
<g id="LG6-right">
<rect class="gry" x="565" y="536" width="6" height="119.3" rx="3"/>
<rect class="brn" x="565.5" y="556.7" width="5" height="11.6"/>
<rect class="ol" x="565" y="536" width="6" height="119.3" rx="3"/>
<path class="tick" d="M559 539H577M559 558.7L565 564.6H571L577 558.7M559 573.3L565 572.7H571L577 573.3M559 581.7L565 574H571L577 581.7M559 593.3L565 593H571L577 593.3M559 621.7H577M559 631.7H577M559 652.3H577M558 615V627M558 644V658"/>
<path class="tko" d="M559 549L565 557.9H571L577 551M559 566.7L565 570H571L577 566.7"/>
<text class="gu" x="568.3" y="532.5">g g</text>
<text class="m" x="578.3" y="540.8">0</text><text class="m" x="578.3" y="552.8">14</text><text class="m" x="578.3" y="560.5">19</text><text class="m" x="578.3" y="568.5">23</text><text class="m" x="578.3" y="575.1">25</text><text class="m" x="578.3" y="583.5">26</text><text class="m" x="578.3" y="595.1">40</text><text class="m" x="578.3" y="623.5">63</text><text class="m" x="578.3" y="633.5">67</text><text class="m" x="578.3" y="654.1">84</text>
<text class="m r" x="556.7" y="540.8">N12_346/2-</text>
<text class="big r o u" x="556.7" y="551.5" style="font-weight:normal">CCR</text>
<text class="m r" x="556.7" y="560.5">K06_1092/1+</text>
<text class="big r o u" x="556.7" y="569.2" style="font-weight:normal">EST_08B02</text>
<text class="m r" x="556.7" y="575.1">N11_419/1-</text>
<text class="m r" x="556.7" y="583.5">K12_637/1-</text>
<text class="m r" x="556.7" y="595.1">X07_396/2+</text>
<text class="m r b" x="556.7" y="620.3" style="font-size:6.3px">EST_08E02</text>
<text class="sm r" x="556.7" y="625.5">EST_10H11(10cM)</text>
<text class="m r" x="556.7" y="633.5">K16_1193/1+</text>
<text class="m r b" x="556.7" y="649.3" style="font-size:6.3px">EST_07A01/+</text>
<text class="sm r" x="556.7" y="656.5">EST_06F04(6cM)</text>
</g>

<g id="connectors">
<path class="con" d="M210 123.3H224M210 144L224 149.3M535 155L546.7 159M536.7 198.5L546.5 197M230.7 354L244.3 374M232.7 440.7L244.3 424.3M511.7 307.3L526 312.3M511.7 439.3L525 414.3M511.7 473.3L525 492.3M184 551.7L196.7 571.7M185 659.3L196.7 627.3M185 675L199.5 633M501.7 561.7L510 556.7M501.7 566.7L510 566"/>
<g class="dot">
<circle cx="210" cy="123.3" r="1.1"/><circle cx="224" cy="123.3" r="1.1"/><circle cx="210" cy="144" r="1.1"/><circle cx="224" cy="149.3" r="1.1"/>
<circle cx="535" cy="155" r="1.1"/><circle cx="546.7" cy="159" r="1.1"/><circle cx="536.7" cy="198.5" r="1.1"/><circle cx="546.5" cy="197" r="1.1"/>
<circle cx="230.7" cy="354" r="1.1"/><circle cx="244.3" cy="374" r="1.1"/><circle cx="232.7" cy="440.7" r="1.1"/><circle cx="244.3" cy="424.3" r="1.1"/>
<circle cx="511.7" cy="307.3" r="1.1"/><circle cx="526" cy="312.3" r="1.1"/><circle cx="511.7" cy="439.3" r="1.1"/><circle cx="525" cy="414.3" r="1.1"/><circle cx="511.7" cy="473.3" r="1.1"/><circle cx="525" cy="492.3" r="1.1"/>
<circle cx="184" cy="551.7" r="1.1"/><circle cx="196.7" cy="571.7" r="1.1"/><circle cx="185" cy="659.3" r="1.1"/><circle cx="196.7" cy="627.3" r="1.1"/><circle cx="185" cy="675" r="1.1"/><circle cx="199.5" cy="633" r="1.1"/>
<circle cx="501.7" cy="561.7" r="1.1"/><circle cx="510" cy="556.7" r="1.1"/><circle cx="501.7" cy="566.7" r="1.1"/><circle cx="510" cy="566" r="1.1"/>
</g>
</g>
</svg>
